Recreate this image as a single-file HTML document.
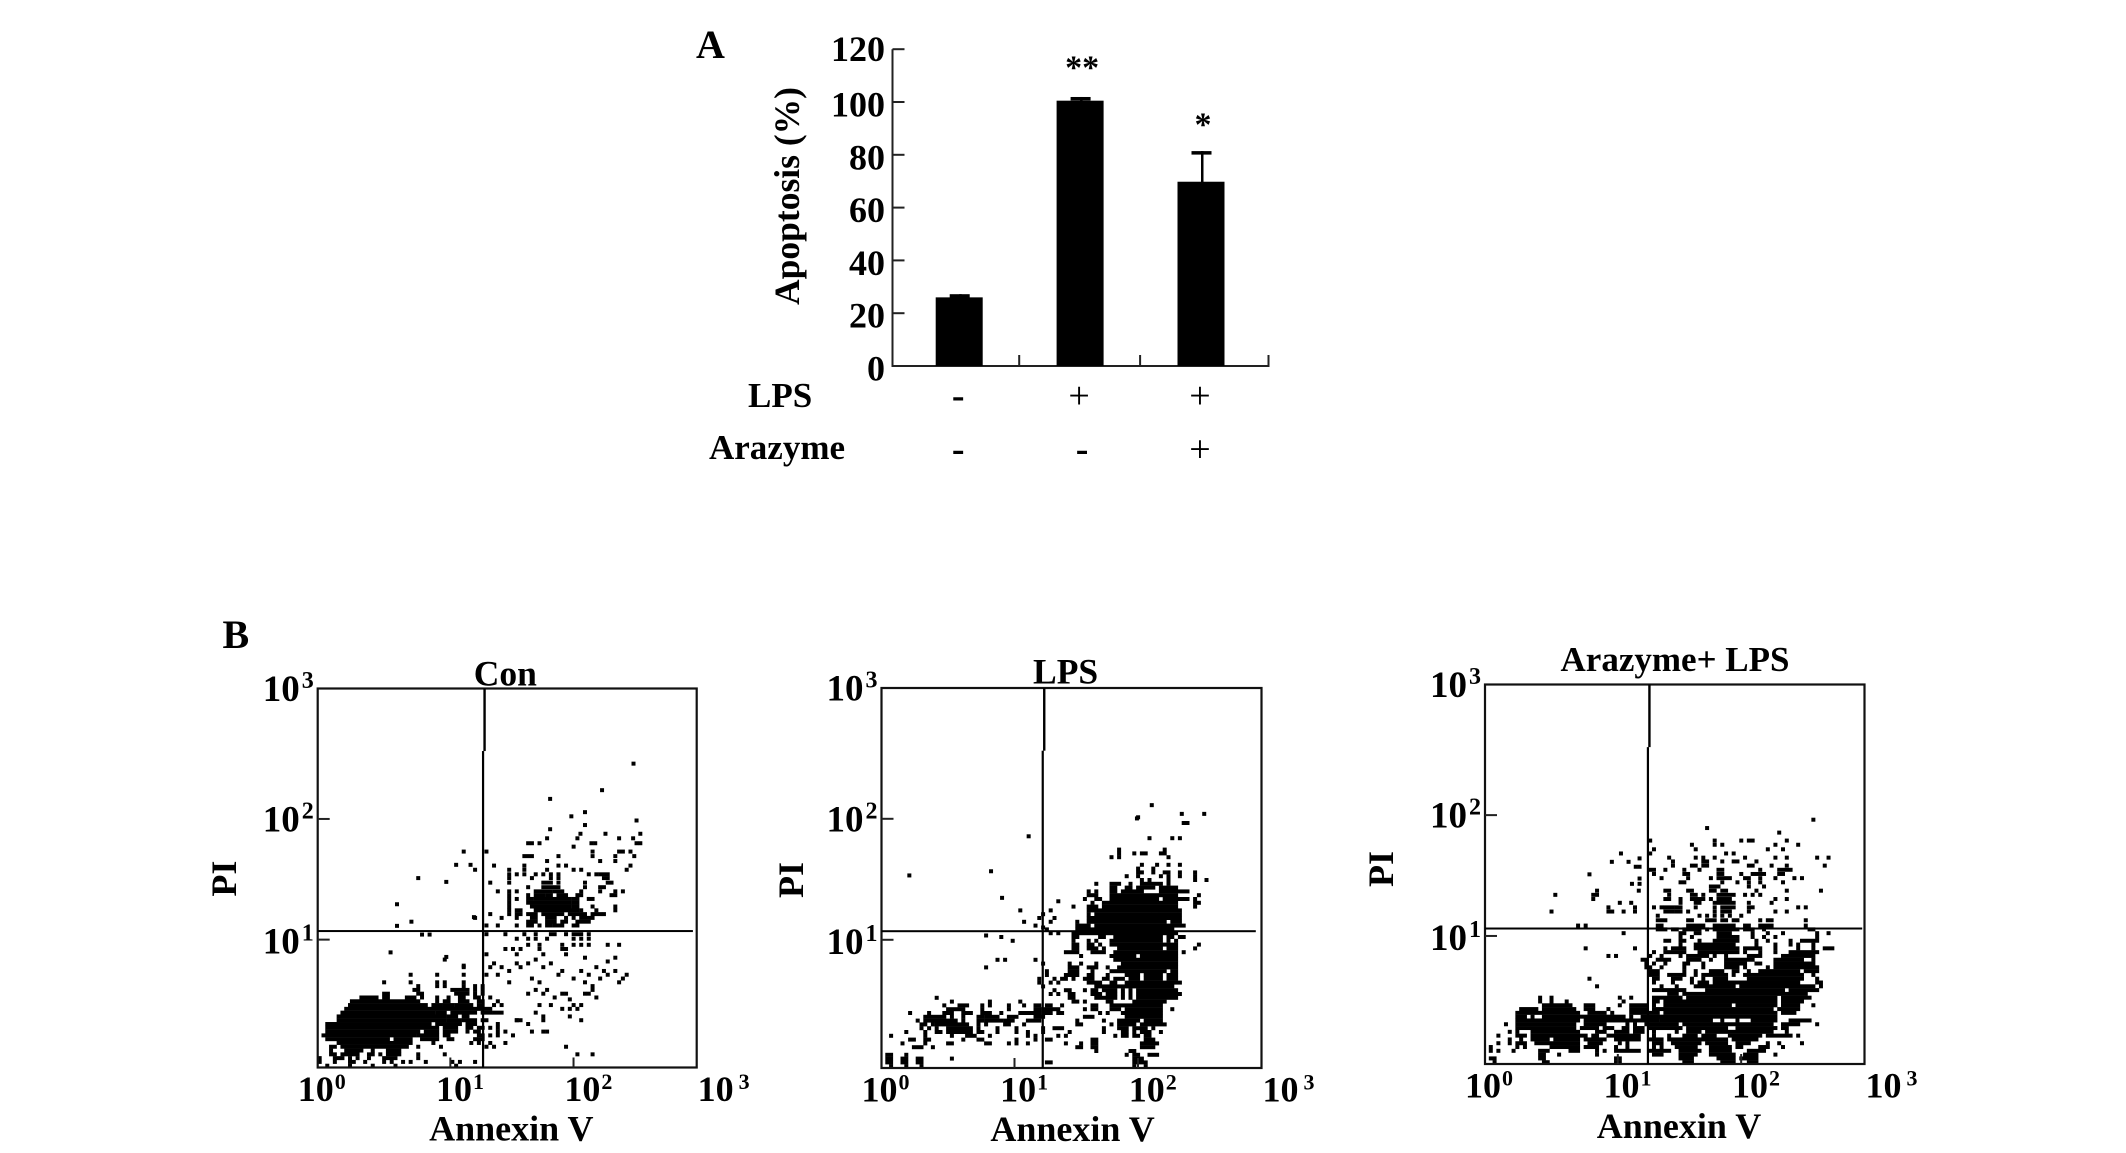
<!DOCTYPE html>
<html lang="en">
<head>
<meta charset="utf-8">
<title>Apoptosis and Annexin V / PI flow cytometry</title>
<style>
html,body{margin:0;padding:0;background:#fff;}
svg{display:block;}
text{font-family:"Liberation Serif",serif;font-weight:bold;fill:#000;}
</style>
</head>
<body>
<svg id="fig" xmlns="http://www.w3.org/2000/svg" width="2126" height="1153" viewBox="0 0 2126 1153">
<rect width="2126" height="1153" fill="#fff"/>
</svg>
<script>
/* ---------- Panel A data ---------- */
const barCategories = ['control', 'lps', 'arazyme-lps'];
const apoptosisMeans = [26, 100.5, 69.8];
const apoptosisErrors = [1.2, 1.4, 11.6];
const significance = ['', '**', '*'];
const lpsRow = ['-', '+', '+'];
const arazymeRow = ['-', '-', '+'];
const apoptosisTicks = [0, 20, 40, 60, 80, 100, 120];

/* ---------- Panel B data: flow cytometry events, in display channels (0-100 = three decades) ---------- */
const decadeTicks = [0, 1, 2, 3];

/* rows: [y channel, from, to, from, to, ...] ; dots: [x channel, y channel] */
const conRows = [
[0,2,2,8,8,14,14,20,20,36,36],
[1,0,0,4,4,8,9,12,12,17,17,19,19,22,22,24,24,28,28,35,35,37,37,41,41],
[2,0,0,4,6,8,8,10,10,13,13,17,20,26,26],
[3,3,4,6,10,13,14,16,16,18,21,26,26,33,33],
[4,3,3,7,11,14,14,18,21],
[5,3,4,6,23,26,26,32,32,44,44,46,46],
[6,5,24,30,30,40,40,42,42,45,45,49,49],
[7,2,18,20,24,27,31,34,35,41,43],
[8,1,25,26,31,33,34,42,43,45,45,47,47,51,51],
[9,2,26,28,31,33,36,39,39,41,42,47,47],
[10,2,27,28,31,33,36,39,40,42,43,45,45,47,47],
[11,2,29,31,37,39,41,47,47],
[12,5,33,34,37,38,41,43,44,52,52],
[13,5,33,34,36,38,39],
[14,6,30,31,33,35,41,43,45,46,48],
[15,7,31,32,41,42,45],
[16,8,28,30,32,33,35,36,40,42,43,46,46],
[17,8.5,15,16,26,31,31,33,34,37,39,42,43,47,47],
[18,11,15,17,18,23,25,27,27,31,31,34,34,37,38,41,42,45,45],
[19,17,18,26,27,36,39,41,41,43,43],
[20,25,26,35,39,41,41,43,43],
[21,26,26,31,31,33,33,38,38,41,41,43,43],
[22,17,17,24,24,31,31,33,33,38,38],
[24,24,24,31,31,38,38,44,44,47,47],
[26,38,38,45,45],
[28,33,33],
[28.5,70,70,78,78],
[29.4,44,44,52,52,59,59,65,65],
[30.8,49,49,51,51,53,53,58,58,64,65],
[31.9,55,55,58,58,64,64,67,67,69,69,71,71,76,76,79,79],
[33.5,52,52,55,55,57,57,60,60,67,67,69,69,71,71],
[34.7,44,44,49,49,54,54,57,57,61,62,65,65,67,69,71,71],
[37,44,44,47,47,52,52,55,56,58,58,60,61,62,64,67,68],
[38,55,57,60,62,64,65,68,71],
[39,41,41,48,48,52,52,56,57,60,62,65,65,67,67,69,72],
[40,45,45,50,50,52,53,55,57,59,64,66,67,68,70,72,74,75,75],
[41,50,50,52,53,57,68,69,69,73,73,78,78],
[42,50,50,56,66,67,68,72,72,78,78],
[43,50,50,55,55,56,66,67,68],
[44,50,50,52,52,55,56,57,66,67,68,71,72],
[45,50,50,55,55,57,59,60,61,63,65,68,69,77,78],
[46,47,47,50,50,52,52,57,61,62,64,69,69,74,74,78,78,80,80],
[47.1,55,55,59,63,70,70,74,75],
[48.3,45,45,50,50,59,61,63,63,70,70,76,77],
[49.5,50,50,56,56,61,61,63,63,75,76],
[50.5,50,50,52,52,54,54,57,57,59,59,61,61,63,63,71,71,73,73,74,76],
[51.7,41,41,50,50,54,54,60,60,67,67,69,69,81,81],
[52.8,46,46,54,54,63,63,65,65,82,82],
[54,60,60,74,74,78,78],
[55.3,54,56,63,63,72,72,78,78,83,83],
[56.5,44,44,72,72,79,80,82,82]
];
const conDots = [
[82.8,79.7],[74.5,72.7],[60.8,70.4],[70,66.9],[66.4,65.8],[83.6,64.7],[70,63.5],[60.8,62.4],[84.6,61.2],[75.4,61.2],[68.8,61.2],[68,60],[60,60],[79,60],[82.7,60],[55,58.7],[56,58.7],[58,58.7],[67,57.8],[71.7,58.7],[72.7,58.7],[83.6,58.7],[84.6,58.7],[38,56.5],[36,53],[39.8,53],[26,49.5],[33.4,48.5],[20.4,42.6],[24.2,38],[20.4,36.9],[40.7,39.2],[27,34.6],[29,34.6],[18.7,29.9],[33.4,28.7],[38,26.4],
[46,27],[48,26],[50,25],[52,27],[53,26],[55,27],[57,28],[59,26],[61,27],[64,25],[63,24],[69,25],[71,24],[67,23],[74,23],[76,24],[73,26],[75,25],[78,25],[80,23],[81,24],[79,22],[76,27.5],[56,23],[58,22],[50,22],[72,21],[70,22],[55,19],[57,20],[59,19],[60,20],[62,18],[64,19],[65,19],[66,17.5],[70,19],[71,19],[72,20],[73,18],[61,16],[69,16],[67,16],[68,15],[66,15],[64,15],[58,16],[57,14],[59,13],[59,12],[66,13],[69,12],[52,12],[53,12],[55,11],[56,9],[59,9],[60,9],[65,5],[68,3],[72,3],[48,16],[49,9]
];

const lpsRows = [
[0,2,2,6,6,10,10,66,66,69,69],[1,1,2,5,6,9,10,43,44,66,69],[2,1,2,5,6,9,10,18,18,66,68],[3,1,2,6,6,64,64,66,67,70,72],[4,56,56,65,66],[5,8,10,13,13,51,52,55,56,68,71],[6,5,5,11,11,17,18,27,28,33,33,35,35,38,38,48,48,52,52,55,56,68,72],[7,7,8,11,12,21,21,25,26,35,35,40,40,43,44,55,56,69,71],
[8,2,2,11,11,18,18,22,24,28,28,38,38,40,40,46,46,48,48,61,61,63,64,66,67,69,70],[9,6,6,11,11,14,15,17,19,20,23,25,26,30,30,35,35,38,38,42,42,49,49,58,58,63,64,66,66,68,70,73,73],[10,10,10,12,12,14,14,17,23,25,25,30,30,35,35,42,42,45,47,58,58,62,64,66,69,71,71],[11,10,11,13,13,14,15,16,22,25,25,27,27,32,33,37,37,51,52,60,60,62,66,68,74],[12,9,9,11,14,15,19,21,21,25,26,27,31,32,34,38,41,51,51,58,58,62,67,69,73],[13,11,12,13,16,18,18,21,21,25,26,27,30,33,35,40,42,53,55,64,73],[14,7,7,12,12,16,17,18,18,21,22,23,23,26,28,31,31,36,41,42,44,46,47,57,57,59,59,63,73],[15,17,21,26,26,33,33,40,41,42,46,53,53,55,56,60,62,64,73,76,76],
[16,16,16,20,22,26,26,28,28,33,33,37,37,40,41,43,44,47,47,55,56,60,73],[17,18,18,28,28,36,36,50,51,53,53,59,60,66,74],[18,14,14,49,50,56,60,61,61,63,63,65,65,67,77],[19,49,50,55,57,59,61,63,63,65,65,67,78],[20,48,49,53,53,55,56,58,61,63,63,65,65,67,77],[21,56,76],[22,54,57,60,61,64,78],[23,47,48,50,50,53,55,58,59,61,63,65,67,69,73,75,77],
[24,48,51,54,55,59,59,64,67,69,73,75,77],[25,49,51,55,55,60,74,76,77],[26,49,51,54,56,59,59,62,77],[27,49,49,52,52,56,56,63,77],[28,61,77],[29,52,52,60,66,68,77],[30,48,51,55,58,61,77,79,79],[31,50,51,54,56,58,58,62,73,75,77,82,82],
[32,50,51,54,55,57,57,60,77,83,83],[33,50,50,54,54,56,56,60,73,75,75,77,77],[34,50,51,57,58,61,73,75,76,78,79],[35,50,77],[36,51,76],[37,51,54,56,79],[38,51,51,54,74,76,78],[39,54,78],
[40,54,54,56,70,71,72,73,78],[41,54,77,78,78],[42,50,50,54,56,58,77,82,82],[43,55,55,58,77,82,83],[44,53,53,56,57,60,72,74,80,82,82],[45,54,56,60,77,83,83],[46,54,54,56,56,60,61,63,68,73,80],[47,60,61,64,65,67,71,73,77],
[48,56,56,60,62,65,65,68,73,75,75],[49,68,68,70,70,75,75,82,82,85,85],[50,64,64,67,67,73,73,75,75,78,78,82,82],[51,67,68,71,71,74,75,78,78,82,82],[52,67,67,71,71],[53,68,68,72,72,75,75,78,78],[55,60,60,62,62,75,75],[56,62,62,66,66,68,69,73,74],[57,62,62,74,74],[60,70,70,76,76,78,78],[64,79,80],[65.5,67,67]
];
const lpsDots = [
[6.8,50.2],[28.3,51.3],[38.2,60.5],[31.2,44.3],[70.6,68.7],[78.5,66.4],[84.4,66.4],[66.7,65.2],
[46,43.4],[42,40],[44,41],[41,39],[44,38],[40,37],[42,36.5],[45,39],[44,35],[46,35],[43,36],
[45,23],[44,22],[46,22],[43,24],[43,25],[41,22],[41,23],[42,21],[36,41],[37,38],[27,34.4],[31,34],[34,33],[30,28],[32,28],[40,28],[27,26],[42,27],[44,19],[46,19],[45,20]
];

const araRows = [
[0,2,2,15,16,34,35,52,54,62,65,69,71],
[1,1,2,14,15,34,35,51,54,61,65,67,71],[2,14,15,19,19,29,29,44,46,51,55,59,65,68,71,76,76],[3,1,1,3,3,7,7,14,16,22,24,29,29,31,31,34,40,43,48,51,56,59,64,69,73],[4,1,1,8,8,10,10,17,24,26,29,34,34,37,37,44,44,46,46,50,55,59,64,66,67,72,74,78,78],
[5,3,3,6,6,8,10,13,24,27,30,35,35,37,37,44,46,49,56,58,63,66,69,74,74,77,77,83,83],[6,6,6,9,9,12,16,18,24,26,31,34,40,43,46,48,63,65,71],[7,3,3,8,10,12,26,28,29,32,40,44,44,48,48,52,55,57,60,64,72,74,80,82,82],[8,6,6,8,8,12,24,29,31,34,37,39,41,44,44,50,50,53,56,58,75,79,79],
[9,8,23,25,29,31,33,36,37,39,41,43,51,53,63,66,76,78,79],[10,5,5,8,23,26,31,37,37,39,39,42,50,52,75,78,82,87,87],[11,8,24,26,45,46,59,62,62,66,66,70,76,80,85],[12,8,10,12,12,15,36,38,38,41,76],
[13,8,24,27,31,33,33,38,45,47,76,78,81],[14,9,13,15,23,26,28,32,32,38,42,44,75,77,82],[15,15,22,26,28,35,35,38,42,44,44,47,64,66,76,78,82,86,86],[16,14,14,17,17,21,21,36,36,44,45,47,76,78,83],
[17,14,14,17,17,35,35,38,38,44,51,53,76,78,85],[18,48,50,52,84],[19,44,52,58,78,80,87],[20,29,29,46,46,50,50,55,65,67,86,88,88],[21,44,44,49,49,54,54,56,58,60,82,87,88],[22,27,27,44,45,49,51,54,54,57,57,60,63,69,83,87,87],
[23,43,45,48,52,55,55,57,63,65,65,68,83,86,86],[24,43,45,52,52,55,55,59,62,65,66,69,69,72,82,84,87],[25,42,43,46,46,52,52,57,57,63,66,68,68,74,74,76,87],[26,42,42,44,44,47,47,52,53,57,57,63,68,71,72,76,86],
[27,41,42,45,48,53,56,59,59,63,70,76,83,86,86],[28,32,32,34,34,43,43,46,46,51,51,53,58,60,60,63,63,69,72,78,86],[29,44,44,47,52,56,66,68,68,72,72,76,76,80,87],[30,26,26,39,39,47,47,49,52,55,66,68,72,76,76,82,82,86,86,89,91],
[31,51,51,55,65,71,71,76,76,80,80,82,82,86,86],[32,47,48,51,52,56,56,60,66,71,71,74,74,80,80,83,87],[33,51,51,54,54,61,66,70,70,73,73,76,76,87,87],[34,36,36,51,52,55,56,61,64,70,70,74,74,78,78,87,87,90,90],
[35,45,47,49,50,52,56,58,58,60,66,68,70,73,73,85,86],[36,24,24,26,26,45,46,53,57,60,65,68,69,72,75,84,84],
[37.4,45,47,53,54,58,60,62,63,65,66,72,72,74,75,84,84],[38.6,45,45,56,56,58,58,60,60,62,62,64,64,67,67],[39.7,17,17,32,33,36,36,39,39,47,49,50,51,53,53,60,60,62,64,69,69,76,76,79,79],[40.8,32,32,39,39,44,44,46,46,47,49,50,51,55,55,60,60,62,65,69,70,82,82,84,84],
[42,35,35,38,38,51,51,55,55,56,56,60,65,69,69,75,75],[43,28,28,47,48,51,51,54,57,59,59,61,64,76,76,79,79],[44.1,18,18,28,29,48,48,54,55,57,57,61,65,68,68,70,70,72,72],[45.2,29,29,40,40,47,48,53,54,59,60,62,63,71,71,79,79,88,88],
[46.3,59,61,69,69,73,73],[47.4,51,52,62,62,66,66,69,69,72,72,78,78],[48.5,46,46,53,53,59,59,61,64,68,69,72,72,76,76,81,81,83,83],[49.6,44,44,52,53,61,62,67,67,70,73,77,78],
[50.7,43,44,47,47,52,52,56,56,61,62,72,72,77,80],[51.8,49,49,54,55,57,58,69,70,75,75,79,79,89,89],[52.9,49,49,57,58,62,62,65,66,71,71],[53.9,48,48,55,55,57,57,60,60,68,68,76,76,79,79,87,87,90,90],
[55,43,43,63,63,65,65],[56.1,44,44,55,55,74,74,78,78],[57.3,54,54,60,60,62,62,76,76,82,82],[58.4,43,43,60,60,67,67,69,70,79,79],[60.5,77,77],[61.7,58,58],[63.9,86,86]
];
const araDots = [
[35.3,55],[32.9,52.8],[37.3,52.8],[40.2,53.7],[39.2,51.5],[40.2,51.5],[27,49.5],[38.2,47],[40.2,47],[40.2,48.4]
];

/* ---------- helpers ---------- */
const svg = document.getElementById('fig');
const NS = 'http://www.w3.org/2000/svg';

function addText(parent, name, str, x, y, size, anchor, weight, rotate) {
  const el = document.createElementNS(NS, 'text');
  
  
  el.setAttribute('font-size', size);
  el.setAttribute('text-anchor', anchor || 'start');
  if (weight) el.setAttribute('style', 'font-weight:' + weight);
  if (rotate) el.setAttribute('transform', 'translate(' + x + ' ' + y + ') rotate(' + rotate + ')');
  else { el.setAttribute('x', x); el.setAttribute('y', y); }
  el.textContent = str;
  parent.appendChild(el);
  return el;
}
function addRect(parent, name, x, y, w, h, fill) {
  const el = document.createElementNS(NS, 'rect');
  
  
  el.setAttribute('x', x);
  el.setAttribute('y', y);
  el.setAttribute('width', w);
  el.setAttribute('height', h);
  el.setAttribute('fill', fill || '#000');
  parent.appendChild(el);
  return el;
}
function addGroup(parent, name) {
  const g = document.createElementNS(NS, 'g');
  
  
  parent.appendChild(g);
  return g;
}

/* ---------- Panel A ---------- */
(function () {
  const g = addGroup(svg, 'apoptosis-bar-chart');
  const y = v => 366 - v * 2.64;
  const band = i => 959.2 + i * 120.9;
  const axisX = 892.5, axisEnd = 1269.5;
  addText(g, 'panel-a-label', 'A', 696, 58, 40);
  addRect(g, 'y-axis-line', axisX - 1, y(120), 2, y(0) - y(120) + 1, '#222');
  addRect(g, 'x-axis-line', axisX, y(0) - 1, axisEnd - axisX, 2, '#222');
  apoptosisTicks.forEach(t => {
    addRect(g, 'y-tick-' + t, axisX, y(t) - 1, 12, 2, '#222');
    addText(g, 'y-tick-label-' + t, String(t), 885, y(t) + (t === 120 ? 12 : 14.5), 36, 'end');
  });
  barCategories.forEach((c, i) => {
    const cx = band(i);
    const top = y(apoptosisMeans[i]);
    const errTop = y(apoptosisMeans[i] + apoptosisErrors[i]);
    addRect(g, 'x-tick-' + i, (i === 2 ? axisEnd - 1 : cx + 60) - 1, y(0) - 11, 2, 11, '#222');
    addRect(g, 'error-stem-' + c, cx, errTop, 2.5, top - errTop + 1);
    addRect(g, 'error-cap-' + c, cx - 9.5, errTop, 20, 3.5);
    addRect(g, 'bar-' + c, cx - 23.5, top, 47, y(0) - top);
    if (significance[i]) addText(g, 'significance-' + c, significance[i], cx + 2, i === 1 ? 78.5 : 135.5, 34, 'middle');
    addText(g, 'lps-sign-' + c, lpsRow[i], cx - 1, 408, 38, 'middle', lpsRow[i] === '+' ? 'normal' : 'bold');
    addText(g, 'arazyme-sign-' + c, arazymeRow[i], cx + (i === 1 ? 2 : -1), 461.5, 38, 'middle', arazymeRow[i] === '+' ? 'normal' : 'bold');
  });
  addText(g, 'y-axis-title', 'Apoptosis (%)', 799, 196, 35.5, 'middle', 'bold', -90);
  addText(g, 'lps-row-label', 'LPS', 748, 407, 35);
  addText(g, 'arazyme-row-label', 'Arazyme', 709, 459, 35);
})();

/* ---------- Panel B ---------- */
addText(svg, 'panel-b-label', 'B', 222.5, 648, 40);

const xLabelNudge = [-20, -8, -6, 1];
const yLabelOffset = [0, 14, 12.5, 12.5];

function drawPanel(key, title, titleSize, titleX, titleY, left, top, side, qx, qy, qEnd, yTitleX, yTitleY, xTitleX, xTitleY, rows, dots) {
  const g = addGroup(svg, key + '-scatter-panel');
  const cell = side / 100;
  const sx = c => left + c * cell;
  const sy = c => top + side - (c + 1) * cell;
  const xTick = d => d * 33.4 + (d === 1 ? 1.6 : d === 2 ? 0.7 : 0);
  const yTick = d => d * 33.34 + (d === 1 ? 0.4 : d === 2 ? -1.1 : 0);
  const group = addGroup(g, key + '-events');
  rows.forEach(r => {
    for (let i = 1; i < r.length; i += 2) {
      addRect(group, key + '-event-run', sx(r[i]), sy(r[0]), (r[i + 1] - r[i] + 1) * cell + 0.2, cell + 0.2);
    }
  });
  dots.forEach(d => {
    addRect(group, key + '-event', sx(d[0]), sy(d[1]), cell + 0.2, cell + 0.2);
  });
  const frame = document.createElementNS(NS, 'rect');
  
  
  frame.setAttribute('x', left);
  frame.setAttribute('y', top);
  frame.setAttribute('width', side);
  frame.setAttribute('height', side);
  frame.setAttribute('fill', 'none');
  frame.setAttribute('stroke', '#111');
  frame.setAttribute('stroke-width', '2.2');
  g.appendChild(frame);
  addRect(g, key + '-vertical-gate-upper', sx(qx) + 0.8, top, 2.4, side * 0.165);
  addRect(g, key + '-vertical-gate-lower', sx(qx) - 0.6, top + side * 0.165, 2.2, side * 0.835);
  addRect(g, key + '-horizontal-gate', left, top + side - qy * cell - 1, qEnd * cell, 2);
  decadeTicks.forEach(d => {
    if (d === 1 || d === 2) {
      addRect(g, key + '-x-tick-' + d, sx(xTick(d)) - 1, top + side - 10, 2, 10, '#222');
      addRect(g, key + '-y-tick-' + d, left, top + side - yTick(d) * cell - 1, 12, 2, '#222');
    }
    const xl = addText(g, key + '-x-tick-label-' + d, '10', left + d * 33.33 * cell + xLabelNudge[d], top + side + 33.5, 36);
    const sup = document.createElementNS(NS, 'tspan');
    
    
    sup.setAttribute('dy', '-12');
    sup.setAttribute('dx', d === 3 ? '5' : '1');
    sup.setAttribute('font-size', '22');
    sup.textContent = String(d);
    xl.appendChild(sup);
    if (d > 0) {
      const yl = addText(g, key + '-y-tick-label-' + d, '10', left - 4, top + side - yTick(d) * cell + yLabelOffset[d], 37, 'end');
      const ys = document.createElementNS(NS, 'tspan');
      
      
      ys.setAttribute('dy', '-13');
      ys.setAttribute('dx', '2');
      ys.setAttribute('font-size', '24');
      ys.textContent = String(d);
      yl.appendChild(ys);
    }
  });
  addText(g, key + '-title', title, titleX, titleY, titleSize, 'middle');
  addText(g, key + '-y-axis-title', 'PI', yTitleX, yTitleY, 36, 'middle', 'bold', -90);
  addText(g, key + '-x-axis-title', 'Annexin V', xTitleX, xTitleY, 36, 'middle');
}

drawPanel('con', 'Con', 35.5, 505.3, 685.3, 317.7, 688.5, 379, 43.5, 36, 99, 236, 878.6, 511.3, 1140.6, conRows, conDots);
drawPanel('lps', 'LPS', 35.5, 1065.6, 683.3, 881.5, 688, 380, 42.3, 36, 98.5, 803, 880, 1072.6, 1141, lpsRows, lpsDots);
drawPanel('arazyme-lps', 'Arazyme+ LPS', 35, 1675, 671, 1485, 684.5, 379.5, 42.8, 35.7, 99.4, 1393, 869, 1679, 1138, araRows, araDots);
</script>
</body>
</html>
